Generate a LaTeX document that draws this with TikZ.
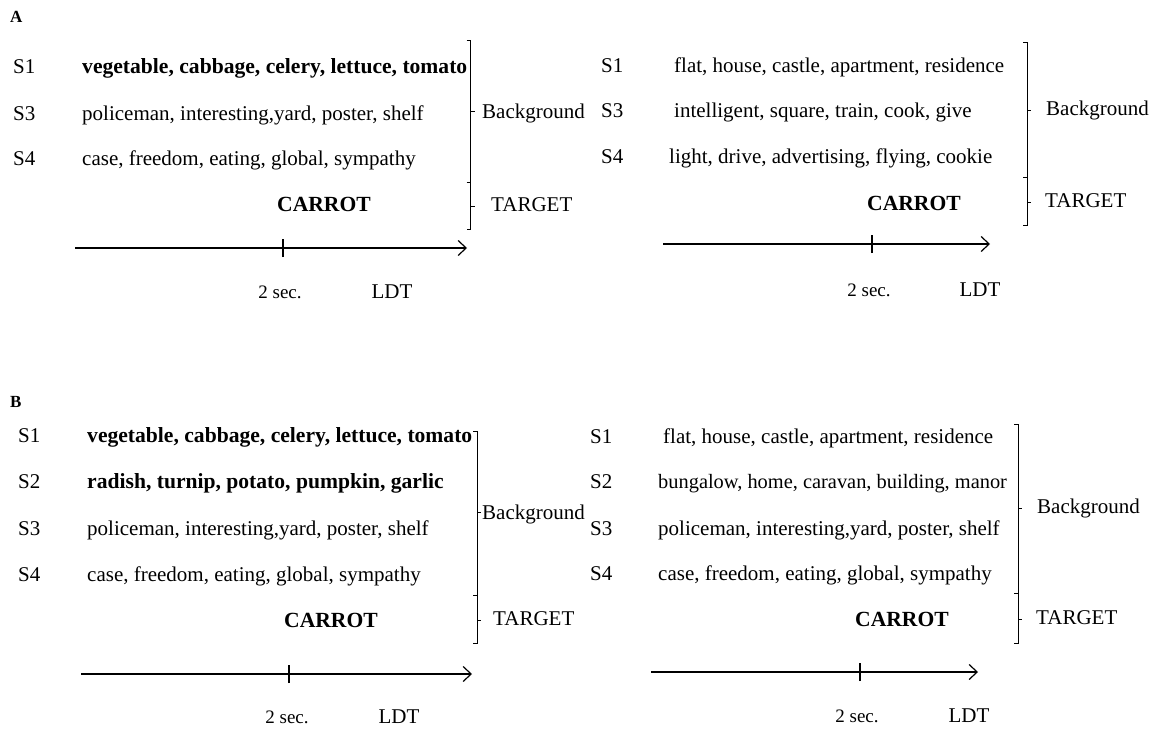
\documentclass[tikz,border=0pt]{standalone}
\usepackage{fontspec}
\setmainfont{Liberation Serif}
\usetikzlibrary{arrows.meta}
\begin{document}
\begin{tikzpicture}[x=1pt,y=-1pt,
  word/.style={inner sep=0pt, anchor=west, font=\fontsize{21}{25}\selectfont, text height=14pt, text depth=4pt},
  bword/.style={word, font=\fontsize{21.6}{25}\selectfont\bfseries},
  cword/.style={word, anchor=center},
  cbword/.style={bword, anchor=center},
  small/.style={word, anchor=center, font=\fontsize{19}{22}\selectfont},
  panel/.style={inner sep=0pt, anchor=west, font=\fontsize{17}{20}\selectfont\bfseries},
  brk/.style={line width=1pt, black},
  timeline/.style={line width=1.2pt, -{Straight Barb[length=8pt,width=15pt,line width=1.2pt]}},
  ticks/.style={line width=1.2pt}
]
\useasboundingbox[fill=white] (0,0) rectangle (1149,731);

% ================= Panel A, left =================
\node[panel] (A) at (10,17) {A};
\node[word] (al1) at (13,68) {S1};
\node[word] (al3) at (13,115) {S3};
\node[word] (al4) at (13,160) {S4};
\node[bword] (alw1) at (82,68) {vegetable, cabbage, celery, lettuce, tomato};
\node[word] (alw3) at (82,115) {policeman, interesting,yard, poster, shelf};
\node[word] (alw4) at (82,160) {case, freedom, eating, global, sympathy};
\node[cbword] (alc) at (324,206) {CARROT};
\coordinate (alb1) at (470.5,40);
\coordinate (alb2) at (470.5,182);
\coordinate (alb3) at (470.5,229);
\coordinate (alt1) at (470.5,111);
\coordinate (alt2) at (470.5,206);
\draw[brk] ([xshift=-4pt]alb1) -- (alb1) -- (alb3) -- ([xshift=-4pt]alb3);
\draw[brk] ([xshift=-4pt]alb2) -- (alb2);
\draw[brk] (alt1) -- ++(4,0);
\draw[brk] (alt2) -- ++(4,0);
\node[word] (albg) at (482,113) {Background};
\node[word] (altg) at (491,206) {TARGET};
\coordinate (ala1) at (75,248);
\coordinate (ala2) at (467,248);
\coordinate (alk) at (283,248);
\draw[timeline] (ala1) -- (ala2);
\draw[ticks] ([yshift=-9pt]alk) -- ([yshift=9pt]alk);
\node[small] (als) at (280,293) {2 sec.};
\node[cword] (ald) at (392,293) {LDT};

% ================= Panel A, right =================
\node[word] (ar1) at (601,67) {S1};
\node[word] (ar3) at (601,112) {S3};
\node[word] (ar4) at (601,158) {S4};
\node[word] (arw1) at (674,67) {flat, house, castle, apartment, residence};
\node[word] (arw3) at (674,112) {intelligent, square, train, cook, give};
\node[word] (arw4) at (669,158) {light, drive, advertising, flying, cookie};
\node[cbword] (arc) at (914,205) {CARROT};
\coordinate (arb1) at (1027,42);
\coordinate (arb2) at (1027,177);
\coordinate (arb3) at (1027,225);
\coordinate (art1) at (1027,110);
\coordinate (art2) at (1027,202);
\draw[brk] ([xshift=-4pt]arb1) -- (arb1) -- (arb3) -- ([xshift=-4pt]arb3);
\draw[brk] ([xshift=-4pt]arb2) -- (arb2);
\draw[brk] (art1) -- ++(4,0);
\draw[brk] (art2) -- ++(4,0);
\node[word] (arbg) at (1046,110) {Background};
\node[word] (artg) at (1045,202) {TARGET};
\coordinate (ara1) at (663,244);
\coordinate (ara2) at (990,244);
\coordinate (ark) at (872,244);
\draw[timeline] (ara1) -- (ara2);
\draw[ticks] ([yshift=-9pt]ark) -- ([yshift=9pt]ark);
\node[small] (ars) at (869,291) {2 sec.};
\node[cword] (ard) at (980,291) {LDT};

% ================= Panel B, left =================
\node[panel] (B) at (10,402) {B};
\node[word] (bl1) at (18,437) {S1};
\node[word] (bl2) at (18,483) {S2};
\node[word] (bl3) at (18,530) {S3};
\node[word] (bl4) at (18,576) {S4};
\node[bword] (blw1) at (87,437) {vegetable, cabbage, celery, lettuce, tomato};
\node[bword] (blw2) at (87,483) {radish, turnip, potato, pumpkin, garlic};
\node[word] (blw3) at (87,530) {policeman, interesting,yard, poster, shelf};
\node[word] (blw4) at (87,576) {case, freedom, eating, global, sympathy};
\node[cbword] (blc) at (331,622) {CARROT};
\coordinate (blb1) at (477,431);
\coordinate (blb2) at (477,595);
\coordinate (blb3) at (477,643);
\coordinate (blt1) at (477,512);
\coordinate (blt2) at (477,620);
\draw[brk] ([xshift=-4pt]blb1) -- (blb1) -- (blb3) -- ([xshift=-4pt]blb3);
\draw[brk] ([xshift=-4pt]blb2) -- (blb2);
\draw[brk] (blt1) -- ++(4,0);
\draw[brk] (blt2) -- ++(4,0);
\node[word] (blbg) at (482,514) {Background};
\node[word] (bltg) at (493,620) {TARGET};
\coordinate (bla1) at (81,674);
\coordinate (bla2) at (472,674);
\coordinate (blk) at (289,674);
\draw[timeline] (bla1) -- (bla2);
\draw[ticks] ([yshift=-9pt]blk) -- ([yshift=9pt]blk);
\node[small] (bls) at (287,718) {2 sec.};
\node[cword] (bld) at (399,718) {LDT};

% ================= Panel B, right =================
\node[word] (br1) at (590,438) {S1};
\node[word] (br2) at (590,483) {S2};
\node[word] (br3) at (590,530) {S3};
\node[word] (br4) at (590,575) {S4};
\node[word] (brw1) at (663,438) {flat, house, castle, apartment, residence};
\node[word, font=\fontsize{20.4}{25}\selectfont] (brw2) at (658,483) {bungalow, home, caravan, building, manor};
\node[word] (brw3) at (658,530) {policeman, interesting,yard, poster, shelf};
\node[word] (brw4) at (658,575) {case, freedom, eating, global, sympathy};
\node[cbword] (brc) at (902,621) {CARROT};
\coordinate (brb1) at (1018,424);
\coordinate (brb2) at (1018,593);
\coordinate (brb3) at (1018,643);
\coordinate (brt1) at (1018,508);
\coordinate (brt2) at (1018,619);
\draw[brk] ([xshift=-4pt]brb1) -- (brb1) -- (brb3) -- ([xshift=-4pt]brb3);
\draw[brk] ([xshift=-4pt]brb2) -- (brb2);
\draw[brk] (brt1) -- ++(4,0);
\draw[brk] (brt2) -- ++(4,0);
\node[word] (brbg) at (1037,508) {Background};
\node[word] (brtg) at (1036,619) {TARGET};
\coordinate (bra1) at (651,672);
\coordinate (bra2) at (978,672);
\coordinate (brk) at (860,672);
\draw[timeline] (bra1) -- (bra2);
\draw[ticks] ([yshift=-9pt]brk) -- ([yshift=9pt]brk);
\node[small] (brs) at (857,717) {2 sec.};
\node[cword] (brd) at (969,717) {LDT};
\end{tikzpicture}
\end{document}
